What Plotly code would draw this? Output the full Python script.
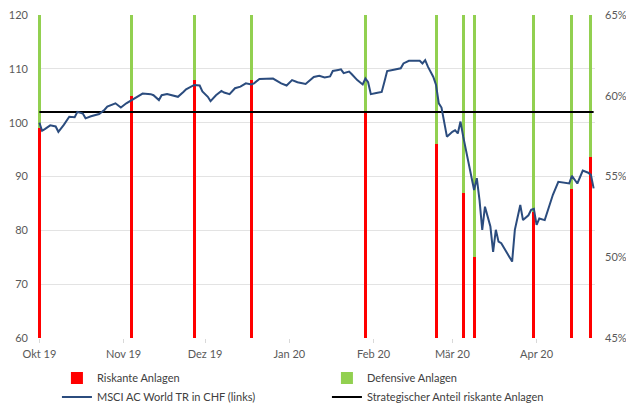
import plotly.graph_objects as go

# ---- data ----
msci_dates = [
    "2019-10-01", "2019-10-02", "2019-10-03", "2019-10-05", "2019-10-07", "2019-10-08",
    "2019-10-10", "2019-10-12", "2019-10-14", "2019-10-15", "2019-10-17", "2019-10-18",
    "2019-10-20", "2019-10-23", "2019-10-25", "2019-10-26", "2019-10-29", "2019-10-31",
    "2019-11-02", "2019-11-04", "2019-11-06", "2019-11-08", "2019-11-11", "2019-11-12",
    "2019-11-14", "2019-11-15", "2019-11-17", "2019-11-19", "2019-11-21", "2019-11-23",
    "2019-11-24", "2019-11-27", "2019-11-29", "2019-11-30", "2019-12-02", "2019-12-03",
    "2019-12-05", "2019-12-07", "2019-12-08", "2019-12-10", "2019-12-12", "2019-12-14",
    "2019-12-16", "2019-12-18", "2019-12-19", "2019-12-21", "2019-12-24", "2019-12-26",
    "2019-12-29", "2019-12-31", "2020-01-02", "2020-01-04", "2020-01-07", "2020-01-08",
    "2020-01-10", "2020-01-12", "2020-01-14", "2020-01-16", "2020-01-17", "2020-01-19",
    "2020-01-20", "2020-01-21", "2020-01-23", "2020-01-24", "2020-01-26", "2020-01-28",
    "2020-01-29", "2020-01-30", "2020-01-31", "2020-02-02", "2020-02-04", "2020-02-05",
    "2020-02-06", "2020-02-08", "2020-02-09", "2020-02-11", "2020-02-12", "2020-02-14",
    "2020-02-16", "2020-02-18", "2020-02-19", "2020-02-20", "2020-02-21", "2020-02-23",
    "2020-02-24", "2020-02-25", "2020-02-26", "2020-02-28", "2020-03-01", "2020-03-02",
    "2020-03-03", "2020-03-04", "2020-03-05", "2020-03-06", "2020-03-09", "2020-03-10",
    "2020-03-11", "2020-03-12", "2020-03-13", "2020-03-15", "2020-03-16", "2020-03-17",
    "2020-03-18", "2020-03-19", "2020-03-21", "2020-03-23", "2020-03-24", "2020-03-25",
    "2020-03-26", "2020-03-27", "2020-03-29", "2020-03-30", "2020-03-31", "2020-04-01",
    "2020-04-02", "2020-04-04", "2020-04-06", "2020-04-07", "2020-04-09", "2020-04-12",
    "2020-04-13", "2020-04-14", "2020-04-16", "2020-04-18", "2020-04-20", "2020-04-21",
    "2020-04-22",
]
msci_values = [
    100.0, 98.5, 98.8, 99.5, 99.3, 98.3,
    99.6, 101.1, 101.0, 102.0, 101.7, 100.8,
    101.2, 101.6, 102.4, 103.0, 103.6, 102.8,
    103.6, 104.2, 104.8, 105.4, 105.3, 105.1,
    104.2, 105.1, 105.3, 105.1, 104.8, 105.7,
    106.2, 107.0, 106.9, 105.8, 104.8, 104.0,
    105.1, 105.9, 105.6, 105.3, 106.4, 106.7,
    107.3, 107.1, 107.3, 108.1, 108.1, 108.2,
    107.3, 106.9, 107.9, 107.5, 107.2, 107.6,
    108.5, 108.7, 108.4, 108.6, 109.6, 109.8,
    109.9, 109.2, 109.5, 109.0, 107.9, 107.1,
    108.2, 107.5, 105.3, 105.5, 105.7, 107.6,
    109.6, 109.8, 109.9, 110.1, 111.0, 111.5,
    111.5, 111.5, 111.0, 111.6, 110.4, 108.5,
    107.0, 103.6, 102.8, 97.4, 98.3, 98.6,
    98.0, 100.2, 97.4, 94.9, 87.5, 89.7,
    85.6, 80.1, 84.4, 80.7, 76.0, 80.1,
    77.9, 77.6, 76.0, 74.2, 80.1, 82.5,
    84.7, 81.9, 82.8, 83.8, 84.0, 81.0,
    82.2, 81.9, 85.0, 86.6, 89.0, 88.8,
    88.7, 90.1, 88.7, 91.1, 90.7, 90.3,
    87.8,
]

alloc_dates = ["2019-10-01", "2019-11-04", "2019-11-27", "2019-12-18", "2020-01-29",
               "2020-02-24", "2020-03-05", "2020-03-09", "2020-03-31", "2020-04-14",
               "2020-04-21"]
risky_share = [58, 60, 61, 61, 59, 57, 54, 50, 52.8, 54.2, 56.2]
defensive_share = [42, 40, 39, 39, 41, 43, 46, 50, 47.2, 45.8, 43.8]

strategic_dates = ["2019-10-01", "2020-04-22"]
strategic_share = [59, 59]

tick_dates = ["2019-10-01", "2019-11-01", "2019-12-01", "2020-01-01",
              "2020-02-01", "2020-03-01", "2020-04-01"]
tick_labels = ["Okt 19", "Nov 19", "Dez 19", "Jan 20", "Feb 20", "Mär 20", "Apr 20"]

# ---- figure ----
FONT = "Lato, Carlito, 'Liberation Sans', sans-serif"
TXT = "#595959"
DAY_MS = 86400000

fig = go.Figure()
fig.add_trace(go.Bar(
    x=alloc_dates, y=risky_share, name="Riskante Anlagen",
    marker=dict(color="#FF0000", line=dict(width=0)), width=1.1 * DAY_MS,
    yaxis="y", legendrank=1,
))
fig.add_trace(go.Bar(
    x=alloc_dates, y=defensive_share, name="Defensive Anlagen",
    marker=dict(color="#92D050", line=dict(width=0)), width=1.1 * DAY_MS,
    yaxis="y", legendrank=2,
))
fig.add_trace(go.Scatter(
    x=strategic_dates, y=strategic_share, mode="lines",
    name="Strategischer Anteil riskante Anlagen",
    line=dict(color="#000000", width=2), yaxis="y", legendrank=4,
))
fig.add_trace(go.Scatter(
    x=msci_dates, y=msci_values, mode="lines",
    name="MSCI AC World TR in CHF (links)",
    line=dict(color="#2B4C7E", width=2), yaxis="y2", legendrank=3,
))

fig.update_layout(
    width=626, height=403,
    margin=dict(l=38, r=31, t=15, b=65, autoexpand=False),
    paper_bgcolor="white", plot_bgcolor="white",
    barmode="stack", bargap=0,
    font=dict(family=FONT, size=11, color=TXT),
    showlegend=True,
    legend=dict(
        orientation="h", traceorder="normal",
        x=0.034, xanchor="left", y=-0.079, yanchor="top",
        entrywidth=225, entrywidthmode="pixels",
        font=dict(family=FONT, size=11, color="#404040"),
        bgcolor="rgba(0,0,0,0)", tracegroupgap=0,
        itemwidth=30,
    ),
    xaxis=dict(
        type="date", automargin=False,
        range=["2019-09-30 12:00", "2020-04-22 12:00"],
        tickmode="array", tickvals=tick_dates, ticktext=tick_labels,
        ticks="outside", ticklen=4, tickcolor="#D9D9D9",
        ticklabelstandoff=2,
        showgrid=False, zeroline=False, showline=False,
        tickfont=dict(family=FONT, size=11, color=TXT),
    ),
    yaxis=dict(
        side="right", range=[45, 65], tickmode="array", automargin=False,
        tickvals=[45, 50, 55, 60, 65], ticktext=["45%", "50%", "55%", "60%", "65%"],
        showgrid=False, zeroline=False, showline=False,
        ticklabelstandoff=9,
        tickfont=dict(family=FONT, size=11, color=TXT),
    ),
    yaxis2=dict(
        overlaying="y", side="left", range=[60, 120], dtick=10, automargin=False,
        showgrid=True, gridcolor="#E3E3E3", gridwidth=1,
        zeroline=False, showline=False,
        ticklabelstandoff=9,
        tickfont=dict(family=FONT, size=11, color=TXT),
    ),
)

# remove the browser's default 8px body margin so the figure fills the window
fig.write_html(
    "out.html",
    config={"displayModeBar": False},
    post_script="document.body.style.margin='0px';",
)
